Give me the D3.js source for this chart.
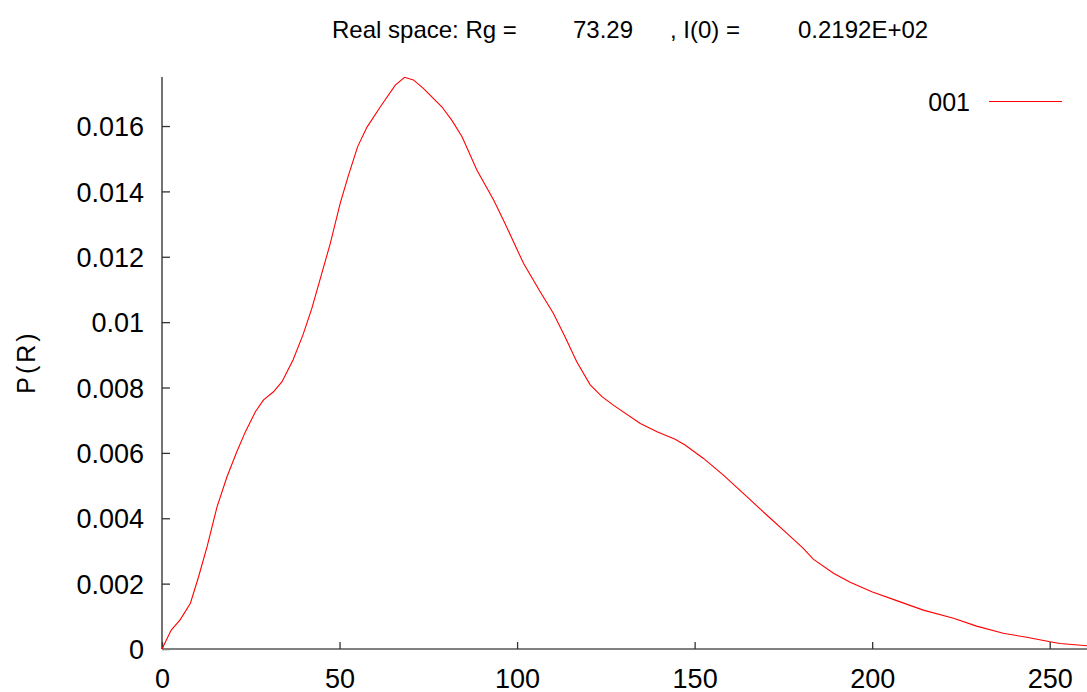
<!DOCTYPE html>
<meta charset="utf-8">
<style>
  body { margin: 0; background: #fff; }
  text { font-family: "Liberation Sans", Arial, sans-serif; fill: #000; }
</style>
<svg width="1087" height="692"></svg>
<script src="https://d3js.org/d3.v7.min.js"></script>
<script>
// P(R) curve
var r = [0, 2.6, 5.1, 8.0, 10.3, 12.7, 15.5, 18.3, 21.1, 23.5, 26.3, 28.6, 31.4, 33.8, 36.9,
         39.7, 42.2, 45.0, 47.4, 50.2, 52.4, 55.1, 57.7, 61.5, 65.7, 68.3, 70.8, 73.6, 78.8,
         81.6, 84.5, 88.7, 93.4, 96.6, 101.8, 106.5, 110.2, 113.5, 116.8, 120.6, 123.9, 127.1,
         134.7, 139.4, 144.5, 147.3, 152.5, 158.1, 164.7, 170.3, 176.0, 180.6, 183.4, 189.1,
         193.8, 199.9, 206.9, 214.4, 222.9, 229.4, 236.9, 243.5, 250.1, 252.9, 260.5];
var pr = [0, 0.00058, 0.00089, 0.0014, 0.00221, 0.00313, 0.00435, 0.00527, 0.00604, 0.00665,
          0.00726, 0.00762, 0.00787, 0.00818, 0.00884, 0.00961, 0.01042, 0.01149, 0.01241,
          0.01364, 0.01445, 0.01537, 0.01596, 0.01659, 0.01725, 0.01749, 0.01741, 0.01715,
          0.01659, 0.01618, 0.01567, 0.01465, 0.01374, 0.01302, 0.0118, 0.01093, 0.01027,
          0.00955, 0.00879, 0.00808, 0.00772, 0.00746, 0.0069, 0.00665, 0.00642, 0.00624,
          0.00583, 0.00532, 0.00466, 0.0041, 0.00354, 0.00308, 0.00275, 0.00232, 0.00204,
          0.00175, 0.00148, 0.00119, 0.00094, 0.0007, 0.00048, 0.00036, 0.00022, 0.00017, 0.0001];
var seriesName = "001";
var xTicks = [0, 50, 100, 150, 200, 250];
var yTicks = [0, 0.002, 0.004, 0.006, 0.008, 0.01, 0.012, 0.014, 0.016];
var yTickLabels = ["0", "0.002", "0.004", "0.006", "0.008", "0.01", "0.012", "0.014", "0.016"];
// title pieces, gnuplot spaces them out widely
var titleParts = ["Real space: Rg =", "73.29", ", I(0) =", "0.2192E+02"];
var titleX = [332, 573, 670, 798];
var yLabel = "P(R)";

var svg = d3.select("svg"),
    margin = {top: 77, right: 0, bottom: 43, left: 162},
    width = +svg.attr("width") - margin.left - margin.right,
    height = +svg.attr("height") - margin.top - margin.bottom;

var x = d3.scaleLinear().domain([0, 260.5]).range([0, width]),
    y = d3.scaleLinear().domain([0, 0.0175]).range([height, 0]);

var g = svg.append("g").attr("transform", "translate(" + margin.left + "," + margin.top + ")");

// y axis: ticks inward
var yAxis = g.append("g")
    .call(d3.axisRight(y).tickValues(yTicks).tickSize(8).tickFormat(""));
yAxis.select(".domain").attr("stroke", "#444").attr("stroke-width", 1.5).attr("d", "M0," + height + "V0");
yAxis.selectAll(".tick line").attr("stroke", "#333").attr("stroke-width", 1.3);
yAxis.selectAll(".tick").append("text")
    .attr("x", -18).attr("dy", "0.36em")
    .attr("text-anchor", "end")
    .style("font-size", "27px")
    .text(function(d, i) { return yTickLabels[i]; });

// x axis: ticks inward
var xAxis = g.append("g")
    .attr("transform", "translate(0," + height + ")")
    .call(d3.axisTop(x).tickValues(xTicks).tickSize(7).tickFormat(""));
xAxis.select(".domain").attr("stroke", "#808080").attr("stroke-width", 2).attr("d", "M0,0H" + width);
xAxis.selectAll(".tick line").attr("stroke", "#333").attr("stroke-width", 1.3);
xAxis.selectAll(".tick").append("text")
    .attr("y", 39)
    .attr("text-anchor", "middle")
    .style("font-size", "27px")
    .text(function(d) { return d; });

// curve
var pts = r.map(function(v, i) { return [v, pr[i]]; });
g.append("path")
    .datum(pts)
    .attr("fill", "none")
    .attr("stroke", "#ff0000")
    .attr("stroke-width", 1.1)
    .attr("d", d3.line().x(function(d) { return x(d[0]); }).y(function(d) { return y(d[1]); }));

// legend
svg.append("text")
    .attr("x", 970).attr("y", 111)
    .attr("text-anchor", "end")
    .style("font-size", "25px")
    .text(seriesName);
svg.append("line")
    .attr("x1", 989).attr("x2", 1062).attr("y1", 101.5).attr("y2", 101.5)
    .attr("stroke", "#ff0000").attr("stroke-width", 1.2);

// title
svg.append("text")
    .attr("y", 38)
    .style("font-size", "24px")
    .selectAll("tspan")
    .data(titleParts)
    .enter().append("tspan")
      .attr("x", function(d, i) { return titleX[i]; })
      .text(function(d) { return d; });

// y label
svg.append("text")
    .attr("transform", "translate(35,362) rotate(-90)")
    .attr("text-anchor", "middle")
    .style("font-size", "25px")
    .style("letter-spacing", "3px")
    .text(yLabel);
</script>
